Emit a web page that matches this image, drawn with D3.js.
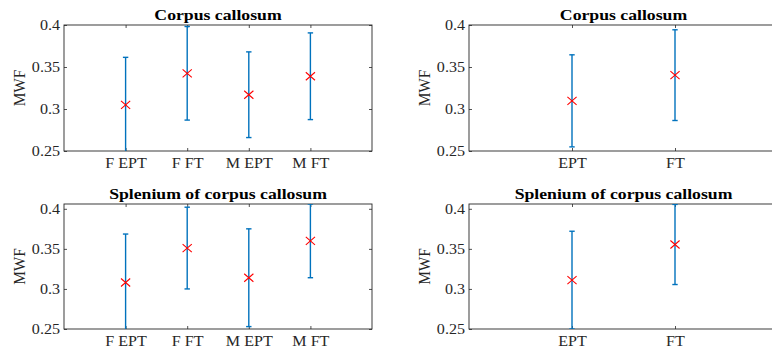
<!DOCTYPE html>
<html><head><meta charset="utf-8">
<script src="https://cdn.jsdelivr.net/npm/d3@7"></script>
<style>body{margin:0;background:#fff}svg{display:block}</style>
</head><body>
<svg id="c" width="772" height="352"></svg>
<script>
// ---- data ----
const titles = ["Corpus callosum", "Corpus callosum", "Splenium of corpus callosum", "Splenium of corpus callosum"];
const groups4 = ["F EPT", "F FT", "M EPT", "M FT"];
const groups2 = ["EPT", "FT"];
const ccMean4 = [0.305, 0.3425, 0.317, 0.339];
const ccErr4  = [0.0565, 0.0557, 0.051, 0.0516];
const ccMean2 = [0.3097, 0.3403];
const ccErr2  = [0.0548, 0.054];
const spMean4 = [0.308, 0.351, 0.314, 0.360];
const spErr4  = [0.0605, 0.051, 0.061, 0.046];
const spMean2 = [0.311, 0.3555];
const spErr2  = [0.061, 0.050];
const yTicks = [0.25, 0.3, 0.35, 0.4];
const yLabel = "MWF";
const yMaxTop = 0.4, yMaxBottom = 0.406;

// ---- layout ----
const panels = [
  {title: titles[0], cats: groups4, mean: ccMean4, err: ccErr4, ymax: yMaxTop, x0: 64, x1: 372, y0: 25, y1: 151},
  {title: titles[1], cats: groups2, mean: ccMean2, err: ccErr2, ymax: yMaxTop, x0: 469, x1: 778, y0: 25, y1: 151},
  {title: titles[2], cats: groups4, mean: spMean4, err: spErr4, ymax: yMaxBottom, x0: 64, x1: 372, y0: 204, y1: 329},
  {title: titles[3], cats: groups2, mean: spMean2, err: spErr2, ymax: yMaxBottom, x0: 469, x1: 778, y0: 204, y1: 329}
];

const svg = d3.select("#c");
const font = "Liberation Serif";
const axisCol = "#262626";
const blue = "#0072BD";
const SX = 1.15; // horizontal stretch of the reference text

panels.forEach((p, i) => {
  const x = d3.scaleLinear().domain([0, p.cats.length + 1]).range([p.x0, p.x1]);
  const y = d3.scaleLinear().domain([0.25, p.ymax]).range([p.y1, p.y0]);
  const g = svg.append("g");
  const clipId = "clip" + i;
  svg.append("defs").append("clipPath").attr("id", clipId)
    .append("rect").attr("x", p.x0).attr("y", p.y0).attr("width", p.x1 - p.x0).attr("height", p.y1 - p.y0);

  // axes
  const ya = g.append("g").attr("transform", `translate(${p.x0},0)`)
    .call(d3.axisLeft(y).tickValues(yTicks).tickFormat(d3.format("")).tickSizeInner(-3).tickSizeOuter(0).tickPadding(4));
  const yr = g.append("g").attr("transform", `translate(${p.x1},0)`)
    .call(d3.axisRight(y).tickValues(yTicks).tickFormat("").tickSizeInner(-3).tickSizeOuter(0));
  const xa = g.append("g").attr("transform", `translate(0,${p.y1})`)
    .call(d3.axisBottom(x).tickValues(p.cats.map((c, k) => k + 1)).tickFormat((d) => p.cats[d - 1]).tickSizeInner(-3).tickSizeOuter(0).tickPadding(7.5));
  const xt = g.append("g").attr("transform", `translate(0,${p.y0})`)
    .call(d3.axisTop(x).tickValues(p.cats.map((c, k) => k + 1)).tickFormat("").tickSizeInner(-3).tickSizeOuter(0));
  [ya, yr, xa, xt].forEach(a => {
    a.attr("font-family", font).attr("font-size", 14);
    a.select(".domain").remove();
    a.selectAll("line").attr("stroke", axisCol).attr("stroke-width", 0.8);
    a.selectAll("text").attr("fill", axisCol).style("font-family", font).style("font-size", "14px");
  });
  ya.selectAll("text").attr("x", -4 / SX).attr("transform", `scale(${SX},1)`);
  xa.selectAll("text").attr("transform", `scale(${SX},1)`);

  g.append("rect").attr("x", p.x0).attr("y", p.y0).attr("width", p.x1 - p.x0).attr("height", p.y1 - p.y0)
    .attr("fill", "none").attr("stroke", axisCol).attr("stroke-width", 0.9);

  // title
  const cxT = (p.x0 + p.x1) / 2;
  g.append("text").attr("transform", `translate(${cxT},${p.y0 - 5}) scale(${SX},1)`)
    .attr("text-anchor", "middle").style("font-family", font).style("font-weight", "bold").style("font-size", "15.4px")
    .attr("fill", "#000").text(p.title);
  // y label
  g.append("text").attr("transform", `translate(${p.x0 - 39.5},${(p.y0 + p.y1) / 2}) scale(${SX},1) rotate(-90)`)
    .attr("text-anchor", "middle").style("font-family", font).style("font-size", "15.4px").attr("fill", axisCol).text(yLabel);

  // error bars
  const eb = g.append("g").attr("clip-path", `url(#${clipId})`);
  p.mean.forEach((m, k) => {
    const cx = x(k + 1), lo = m - p.err[k], hi = m + p.err[k];
    eb.append("line").attr("x1", cx).attr("x2", cx).attr("y1", y(lo)).attr("y2", y(hi))
      .attr("stroke", blue).attr("stroke-width", 1.4);
    [lo, hi].forEach(v => eb.append("line").attr("x1", cx - 2.7).attr("x2", cx + 2.7).attr("y1", y(v)).attr("y2", y(v))
      .attr("stroke", blue).attr("stroke-width", 1.4));
    const cy = y(m), sx = 4.6, sy = 4;
    eb.append("path").attr("d", `M${cx - sx},${cy - sy}L${cx + sx},${cy + sy}M${cx - sx},${cy + sy}L${cx + sx},${cy - sy}`)
      .attr("stroke", "#FF0000").attr("stroke-width", 1.1).attr("fill", "none");
  });
});
</script>
</body></html>
